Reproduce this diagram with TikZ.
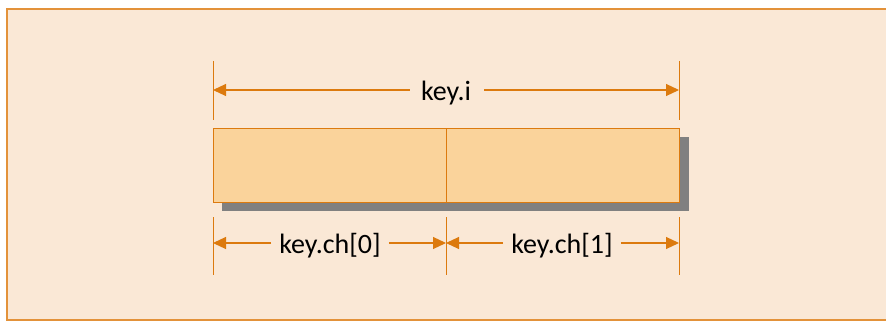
\documentclass[tikz,border=0pt]{standalone}
\usepackage{fontspec}
\setmainfont{Carlito}
\usetikzlibrary{arrows.meta}
\definecolor{bgfill}{HTML}{FAE8D6}
\definecolor{boxfill}{HTML}{FAD39B}
\definecolor{dimorange}{HTML}{DC7A0E}
\definecolor{frameorange}{HTML}{E3923A}
\definecolor{shadowgray}{HTML}{808080}
\tikzset{
  dimline/.style={draw=dimorange, line width=1.1pt, -{Triangle[length=13pt,width=12pt]}},
  extline/.style={draw=dimorange, line width=1pt},
  lbl/.style={font=\fontsize{28}{30}\selectfont, text=black, inner sep=0pt},
  cell/.style={draw=dimorange, line width=1pt, fill=boxfill}
}
\begin{document}
\begin{tikzpicture}[x=1pt,y=-1pt]
\useasboundingbox (0,0) rectangle (886,321);
% background frame
\fill[bgfill] (7,9) rectangle (890,320);
\draw[frameorange, line width=1.8pt] (890,9) -- (7,9) -- (7,320) -- (890,320);
% shadow
\fill[shadowgray] (222,137) rectangle (689,211);
% cells
\draw[cell] (213,128) rectangle (446,202);
\draw[cell] (446,128) rectangle (679,202);
% extension lines top
\coordinate (tl1) at (213,61); \coordinate (tl2) at (213,120);
\coordinate (tr1) at (679,61); \coordinate (tr2) at (679,120);
\draw[extline] (tl1) -- (tl2);
\draw[extline] (tr1) -- (tr2);
% extension lines bottom
\coordinate (bl1) at (213,217); \coordinate (bl2) at (213,275);
\coordinate (bm1) at (446,217); \coordinate (bm2) at (446,275);
\coordinate (br1) at (679,217); \coordinate (br2) at (679,275);
\draw[extline] (bl1) -- (bl2);
\draw[extline] (bm1) -- (bm2);
\draw[extline] (br1) -- (br2);
% top dimension
\node[lbl] (ki) at (446,93) {key.i};
\coordinate (ta) at (213,90); \coordinate (tb) at (679,90);
\draw[dimline] ([xshift=-11pt]ki.west |- ta) -- (ta);
\draw[dimline] ([xshift=13pt]ki.east |- tb) -- (tb);
% bottom dimensions
\node[lbl] (k0) at (330,246) {key.ch[0]};
\node[lbl] (k1) at (562,246) {key.ch[1]};
\coordinate (ba) at (213,243); \coordinate (bb) at (446,243); \coordinate (bc) at (679,243);
\draw[dimline] ([xshift=-8pt]k0.west |- ba) -- (ba);
\draw[dimline] ([xshift=8pt]k0.east |- bb) -- (bb);
\draw[dimline] ([xshift=-8pt]k1.west |- bb) -- (bb);
\draw[dimline] ([xshift=8pt]k1.east |- bc) -- (bc);
\end{tikzpicture}
\end{document}
